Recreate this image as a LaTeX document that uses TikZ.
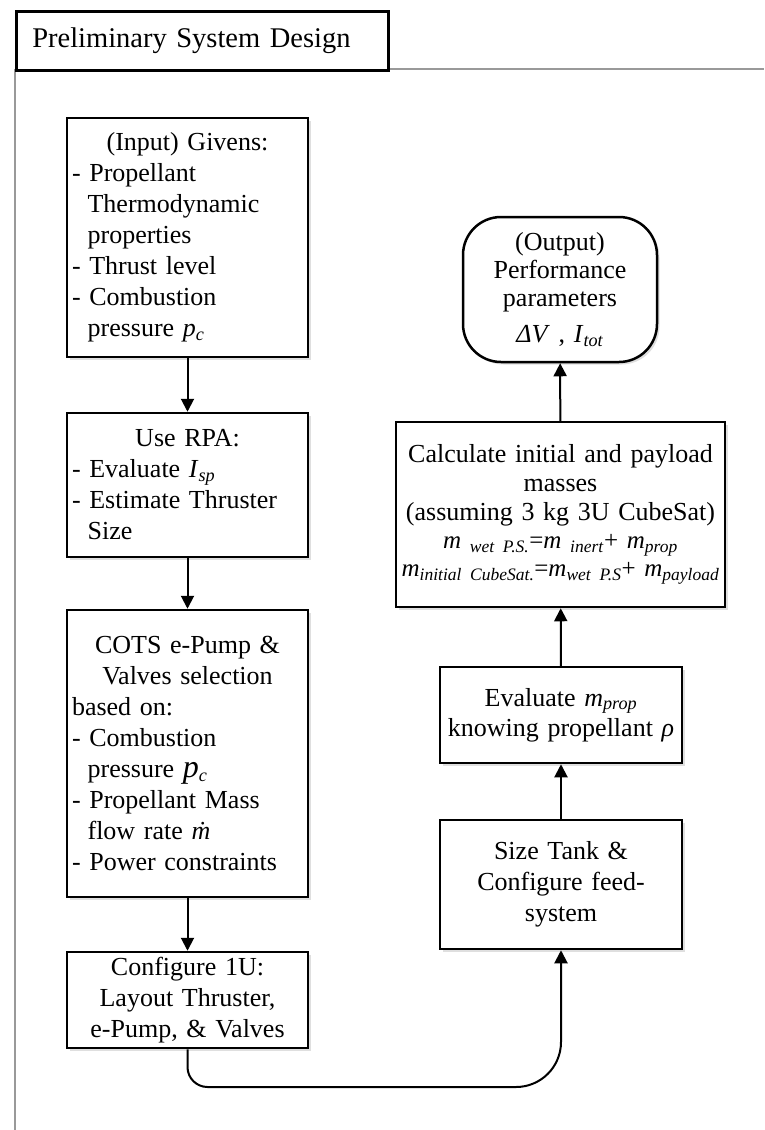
\documentclass[tikz,border=0pt]{standalone}
\usepackage{fontspec}
\setmainfont{Liberation Serif}
\usetikzlibrary{arrows.meta,shadows}
\newcommand{\cont}{\hspace*{0.6em}}
\newcommand{\msub}[2]{\textit{#1}\textsubscript{\textit{#2}}}

\begin{document}
\begin{tikzpicture}[x=1pt, y=-1pt,
		procbox/.style={draw, line width=2.5pt, fill=white, inner sep=5pt,
			drop shadow={shadow xshift=2.5pt, shadow yshift=-2.5pt, opacity=0.25},
			font=\fontsize{26}{31}\selectfont},
		outbox/.style={procbox, rounded corners=38pt},
		flow/.style={line width=2pt, -{Triangle[length=13pt, width=13pt]}},
		frameline/.style={draw=black!40, line width=1.8pt}]
		%%%%% START %%%%%
		\useasboundingbox (0,0) rectangle (764,1130);
		
		\draw[frameline] (15,69) -- (15,1130);
		\draw[frameline] (387,69) -- (764,69);
		\node[draw, line width=2.6pt, anchor=north west, minimum width=372pt, minimum height=59pt,
			text width=340pt, inner xsep=16pt, align=left, font=\fontsize{28.5}{32}\selectfont]
			(head) at (15,10) {Preliminary System Design};
		
		% left column
		\node[procbox, minimum width=241pt, minimum height=239pt, text width=231pt, align=left]
			(givens) at (187.5,237.5) {{\centering (Input) Givens:\par}
			- Propellant\\\cont Thermodynamic\\\cont properties\\
			- Thrust level\\
			- Combustion\\\cont pressure \msub{p}{c}};
		\node[procbox, minimum width=241pt, minimum height=144pt, text width=231pt, align=left]
			(rpa) at (187.5,485) {{\centering Use RPA:\par}
			- Evaluate \msub{I}{sp}\\
			- Estimate Thruster\\\cont Size};
		\node[procbox, minimum width=241pt, minimum height=287pt, text width=231pt, align=left]
			(cots) at (187.5,753.5) {{\centering COTS e-Pump \&\\Valves selection\par}
			based on:\\
			- Combustion\\\cont pressure {\fontsize{32}{31}\selectfont\textit{p}}\textsubscript{\textit{c}}\\
			- Propellant Mass\\\cont flow rate \textit{\.{m}}\\
			- Power constraints};
		\node[procbox, minimum width=241pt, minimum height=96pt, text width=231pt, align=center]
			(layout) at (187.5,1000) {Configure 1U:\\Layout Thruster,\\e-Pump, \& Valves};
		
		% right column
		\node[procbox, minimum width=242pt, minimum height=129pt, text width=232pt, align=center]
			(tank) at (561,884.5) {Size Tank \&\\Configure feed-\\system};
		\node[procbox, minimum width=242pt, minimum height=96pt, text width=232pt, align=center,
			font=\fontsize{26}{30}\selectfont]
			(evalprop) at (561,715) {Evaluate \msub{m}{prop}\\knowing propellant \textit{ρ}};
		\node[procbox, minimum width=329pt, minimum height=185pt, text width=319pt, align=center,
			font=\fontsize{26}{29}\selectfont]
			(masses) at (560.5,514.5) {Calculate initial and payload\\masses\\(assuming 3 kg 3U CubeSat)\\
			{\fontsize{25}{28}\selectfont
			\textit{m}\textsubscript{\textit{ wet P.S.}}=\textit{m}\textsubscript{\textit{ inert}}+ \msub{m}{prop}\\
			\textit{m}\textsubscript{\textit{initial CubeSat.}}=\msub{m}{wet P.S}+ \msub{m}{payload}\par}};
		\node[outbox, minimum width=194pt, minimum height=145pt, text width=184pt, align=center,
			font=\fontsize{26}{28}\selectfont]
			(output) at (560,289.5) {(Output)\\Performance\\parameters\\[8pt]\textit{ΔV} , \msub{I}{tot}};
		
		% connectors
		\draw[flow] (givens) -- (rpa);
		\draw[flow] (rpa) -- (cots);
		\draw[flow] (cots) -- (layout);
		\coordinate (bend) at (561,1087);
		\draw[flow] (layout.south) [rounded corners=20pt] -- (layout.south |- bend)
			[rounded corners=45pt] -- (bend) -- (tank.south);
		\draw[flow] (tank) -- (evalprop);
		\draw[flow] (evalprop) -- (masses);
		\draw[flow] (masses) -- (output);
		%%%%% END %%%%%
\end{tikzpicture}
\end{document}
